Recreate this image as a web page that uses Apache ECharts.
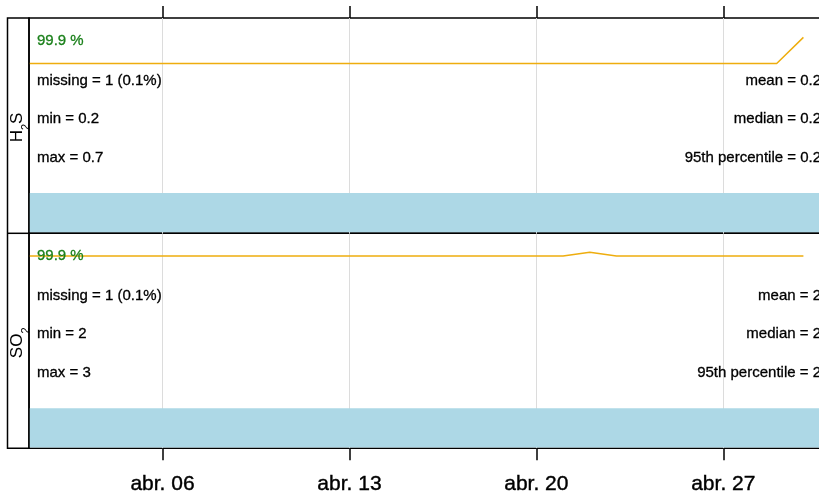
<!DOCTYPE html>
<html><head><meta charset="utf-8">
<script src="https://cdn.jsdelivr.net/npm/echarts@6/dist/echarts.min.js"></script>
<style>html,body{margin:0;padding:0;background:#fff}#c{width:819px;height:497px}</style>
</head><body><div id="c"></div>
<script>
// ---- data ----
const pollutants = ['H2S', 'SO2'];
const dailyDates = [
  '2023-04-01','2023-04-02','2023-04-03','2023-04-04','2023-04-05','2023-04-06','2023-04-07','2023-04-08','2023-04-09','2023-04-10',
  '2023-04-11','2023-04-12','2023-04-13','2023-04-14','2023-04-15','2023-04-16','2023-04-17','2023-04-18','2023-04-19','2023-04-20',
  '2023-04-21','2023-04-22','2023-04-23','2023-04-24','2023-04-25','2023-04-26','2023-04-27','2023-04-28','2023-04-29','2023-04-30'
];
const h2sDaily = [0.2,0.2,0.2,0.2,0.2,0.2,0.2,0.2,0.2,0.2, 0.2,0.2,0.2,0.2,0.2,0.2,0.2,0.2,0.2,0.2, 0.2,0.2,0.2,0.2,0.2,0.2,0.2,0.2,0.2,0.3];
const so2Daily = [2,2,2,2,2,2,2,2,2,2, 2,2,2,2,2,2,2,2,2,2, 2,2.042,2,2,2,2,2,2,2,2];
const captureStart = '2023-04-01 00:00';
const captureEnd = '2023-04-30 23:00';
const capturePct = [99.9, 99.9];
const missingN = [1, 1];
const missingPct = [0.1, 0.1];
const minVals = [0.2, 2];
const maxVals = [0.7, 3];
const meanVals = [0.2, 2];
const medianVals = [0.2, 2];
const p95Vals = [0.2, 2];
const tickDates = ['2023-04-06', '2023-04-13', '2023-04-20', '2023-04-27'];
const tickLabels = ['abr. 06', 'abr. 13', 'abr. 20', 'abr. 27'];
const yRanges = [[-0.447, 0.374], [-0.185, 2.258]];

// ---- helpers ----
function ts(s) {
  const parts = s.split(' ');
  const d = parts[0].split('-').map(Number);
  const t = (parts[1] || '00:00').split(':').map(Number);
  return Date.UTC(d[0], d[1] - 1, d[2], t[0], t[1]);
}
const xMin = ts(captureStart), xMax = ts(captureEnd);
const tickTs = tickDates.map(ts);
const FONT = '"Liberation Sans", Arial, Helvetica, sans-serif';
const seriesVals = [h2sDaily, so2Daily];

const panelTop = [18, 233.3];
const panelH = 215;
const gridLeft = 29, gridW = 800;

const grids = panelTop.map(t => ({
  left: gridLeft, top: t, width: gridW, height: panelH, outerBoundsMode: 'none', containLabel: false,
  show: true, borderColor: '#000', borderWidth: 1.5, backgroundColor: 'transparent'
}));

const xAxes = [0, 1].map(i => ({
  gridIndex: i, type: 'value', min: xMin, max: xMax, scale: true,
  position: i === 0 ? 'top' : 'bottom',
  axisLine: { show: false, onZero: false },
  axisTick: { show: true, customValues: tickTs, length: 12, inside: false, lineStyle: { color: '#000', width: 1.5 } },
  axisLabel: {
    show: i === 1, customValues: tickTs, fontSize: 21, color: '#000', fontFamily: FONT, margin: 25,
    textBorderColor: '#000', textBorderWidth: 0.4,
    formatter: function (v) { const k = tickTs.indexOf(v); return k >= 0 ? tickLabels[k] : ''; }
  },
  splitLine: { show: true, lineStyle: { color: '#dcdcdc', width: 1 } }
}));

const yAxes = [0, 1].map(i => ({
  gridIndex: i, type: 'value', min: yRanges[i][0], max: yRanges[i][1], show: false
}));

const series = [];
[0, 1].forEach(i => {
  series.push({
    type: 'custom', xAxisIndex: i, yAxisIndex: i, z: 2, silent: true,
    data: [[ts(captureStart), ts(captureEnd)]],
    renderItem: function (params, api) {
      const s = api.coord([api.value(0), 0]);
      const e = api.coord([api.value(1), 0]);
      const cs = params.coordSys;
      const h = cs.height * 40 / 215;
      return { type: 'rect', shape: { x: s[0], y: cs.y + cs.height - h, width: e[0] - s[0], height: h - 0.8 },
               style: { fill: '#ADD8E6' } };
    }
  });
  series.push({
    type: 'line', xAxisIndex: i, yAxisIndex: i, z: 3, showSymbol: false, silent: true,
    data: dailyDates.map((d, k) => [ts(d), seriesVals[i][k]]),
    lineStyle: { color: '#EEAD0E', width: 1.5 }
  });
});

// ---- texts ----
const graphics = [];
const txtSize = 15;
const txtStyle = (text, fill, align) => ({ text: text, fill: fill, fontSize: txtSize, fontFamily: FONT,
  verticalAlign: 'middle', align: align, stroke: fill, lineWidth: 0.3 });
[0, 1].forEach(i => {
  const t = panelTop[i];
  graphics.push({ type: 'text', x: 37, y: t + 23, z: 100,
    style: txtStyle(capturePct[i].toFixed(1) + ' %', '#1b801b', 'left') });
  const left = ['missing = ' + missingN[i] + ' (' + missingPct[i] + '%)', 'min = ' + minVals[i], 'max = ' + maxVals[i]];
  const right = ['mean = ' + meanVals[i], 'median = ' + medianVals[i], '95th percentile = ' + p95Vals[i]];
  const rows = [63, 101, 140];
  rows.forEach((r, k) => {
    graphics.push({ type: 'text', x: 37, y: t + r, z: 100, style: txtStyle(left[k], '#000', 'left') });
    graphics.push({ type: 'text', x: 821, y: t + r, z: 100, style: txtStyle(right[k], '#000', 'right') });
  });
});
// strip
graphics.push({ type: 'rect', z: 100, shape: { x: 7.5, y: 18, width: 21.5, height: 430.3 },
  style: { fill: 'none', stroke: '#000', lineWidth: 1.5 } });
graphics.push({ type: 'line', z: 100, shape: { x1: 7.5, y1: 233.3, x2: 29, y2: 233.3 },
  style: { stroke: '#000', lineWidth: 1.5 } });
const stripText = [
  '{n|H}{s|2}{n|S}',
  '{n|SO}{s|2}'
];
[0, 1].forEach(i => {
  graphics.push({ type: 'text', z: 100, x: 17.5, y: panelTop[i] + panelH / 2 + 2, rotation: Math.PI / 2,
    style: { text: stripText[i], align: 'center', verticalAlign: 'middle', fill: '#000',
      rich: {
        n: { fontSize: 17, fontFamily: FONT, fill: '#000', lineHeight: 20, verticalAlign: 'middle' },
        s: { fontSize: 11, fontFamily: FONT, fill: '#000', lineHeight: 28, verticalAlign: 'bottom' }
      } } });
});

const chart = echarts.init(document.getElementById('c'), null, { renderer: 'canvas' });
chart.setOption({
  animation: false,
  backgroundColor: '#fff',
  grid: grids, xAxis: xAxes, yAxis: yAxes, series: series,
  graphic: { elements: graphics }
});
</script>
</body></html>
